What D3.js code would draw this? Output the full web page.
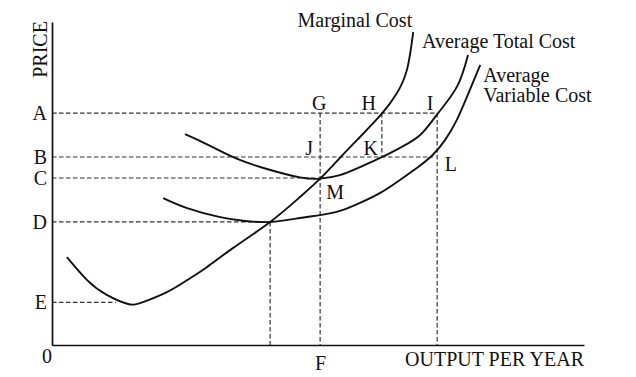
<!DOCTYPE html>
<html>
<head>
<meta charset="utf-8">
<script src="https://cdn.jsdelivr.net/npm/d3@7"></script>
<style>
  body { margin: 0; background: #fff; }
  svg text { font-family: "Liberation Serif", "Times New Roman", serif; fill: #111; }
</style>
</head>
<body>
<div id="chart"></div>
<script>
// price levels on the vertical axis
const priceNames = ["A", "B", "C", "D", "E"];
const priceLevels = [71.8, 58.2, 51.7, 38.1, 13.2];

// output levels (F = output where MC meets ATC)
const outputF = 50.4;
const outputD = 41.0;
const outputH = 62.0;
const outputI = 72.4;
const outputL = 71.6;
const outputE = 12.0;

// cost curves: [output, price]
const marginalCost = [
  [2.8, 27.2], [6.6, 20.1], [10.3, 15.5], [14.3, 12.7], [17.1, 13.3],
  [21.6, 16.4], [25.4, 20.1], [29.1, 24.1], [34.0, 30.0], [41.0, 38.1],
  [46.6, 45.8], [50.4, 51.5], [54.1, 57.9], [57.9, 64.4], [62.0, 71.6],
  [64.7, 77.6], [66.7, 85.1], [67.9, 96.9]
];
const averageTotalCost = [
  [25.0, 65.3], [27.8, 63.2], [31.6, 60.1], [35.3, 57.3], [40.4, 54.5],
  [46.6, 51.9], [50.4, 51.5], [54.1, 52.6], [57.9, 55.1], [61.7, 57.9],
  [65.4, 61.0], [69.2, 65.0], [72.4, 71.4], [76.1, 79.9], [78.2, 89.8]
];
const averageVariableCost = [
  [20.9, 45.5], [25.4, 42.4], [31.6, 39.6], [36.3, 38.4], [41.0, 38.1],
  [46.6, 39.3], [50.4, 40.2], [54.1, 41.5], [57.9, 44.0], [61.7, 47.1],
  [65.4, 51.1], [69.2, 55.6], [71.6, 58.9], [73.9, 63.5], [76.1, 69.7],
  [78.0, 76.8], [80.5, 86.7]
];

const width = 636, height = 377;
const margin = { top: 22, right: 52, bottom: 32, left: 52 };
const fontSize = 20;

const svg = d3.select("#chart").append("svg")
  .attr("width", width)
  .attr("height", height);

const x = d3.scaleLinear().domain([0, 100]).range([margin.left, width - margin.right]);
const y = d3.scaleLinear().domain([0, 100]).range([height - margin.bottom, margin.top]);

const lvl = name => priceLevels[priceNames.indexOf(name)];

// dashed guide lines
const guides = [
  [0, lvl("A"), outputI, lvl("A")],
  [0, lvl("B"), outputL, lvl("B")],
  [0, lvl("C"), outputF, lvl("C")],
  [0, lvl("D"), outputD, lvl("D")],
  [0, lvl("E"), outputE, lvl("E")],
  [outputF, lvl("A"), outputF, 0],
  [outputH, lvl("A"), outputH, lvl("B")],
  [outputI, lvl("A"), outputI, 0],
  [outputD, lvl("D"), outputD, 0]
];
svg.append("g")
  .selectAll("line")
  .data(guides)
  .join("line")
  .attr("x1", d => x(d[0]))
  .attr("y1", d => y(d[1]))
  .attr("x2", d => x(d[2]))
  .attr("y2", d => y(d[3]))
  .attr("stroke", "#333")
  .attr("stroke-width", 1.2)
  .attr("stroke-dasharray", "4.5,2.5");

// axes
const yAxis = svg.append("g")
  .attr("transform", `translate(${x(0)},0)`)
  .call(d3.axisLeft(y).tickValues(priceLevels).tickFormat((d, i) => priceNames[i]).tickSize(0).tickSizeOuter(0).tickPadding(5));
const xAxis = svg.append("g")
  .attr("transform", `translate(0,${y(0)})`)
  .call(d3.axisBottom(x).tickValues([outputF]).tickFormat(() => "F").tickSize(0).tickSizeOuter(0).tickPadding(11));
[yAxis, xAxis].forEach(g => {
  g.attr("font-family", null).attr("font-size", fontSize);
  g.select(".domain").attr("stroke", "#111").attr("stroke-width", 1.7);
});

svg.append("text")
  .attr("x", x(0) - 5).attr("y", y(0) + 18)
  .attr("text-anchor", "middle")
  .attr("font-size", fontSize)
  .text("0");

svg.append("text")
  .attr("x", x(100)).attr("y", y(0) + 21)
  .attr("text-anchor", "end")
  .attr("font-size", fontSize)
  .text("OUTPUT PER YEAR");

svg.append("text")
  .attr("transform", `translate(${x(0) - 5},${y(91.5)}) rotate(-90)`)
  .attr("text-anchor", "middle")
  .attr("font-size", fontSize)
  .text("PRICE");

// curves
const line = d3.line()
  .x(d => x(d[0]))
  .y(d => y(d[1]))
  .curve(d3.curveNatural);

svg.append("g")
  .selectAll("path")
  .data([marginalCost, averageTotalCost, averageVariableCost])
  .join("path")
  .attr("d", line)
  .attr("fill", "none")
  .attr("stroke", "#111")
  .attr("stroke-width", 1.9);

// curve names
const mcEnd = marginalCost[marginalCost.length - 1];
const atcEnd = averageTotalCost[averageTotalCost.length - 1];
const avcEnd = averageVariableCost[averageVariableCost.length - 1];

svg.append("text")
  .attr("x", x(mcEnd[0]) - 1).attr("y", y(mcEnd[1]) - 5)
  .attr("text-anchor", "end")
  .attr("font-size", fontSize)
  .text("Marginal Cost");

svg.append("text")
  .attr("x", x(atcEnd[0]) - 46).attr("y", y(atcEnd[1]) - 7)
  .attr("font-size", fontSize)
  .text("Average Total Cost");

svg.append("text")
  .attr("x", x(avcEnd[0]) + 3).attr("y", y(avcEnd[1]) + 17)
  .attr("font-size", fontSize)
  .text("Average");
svg.append("text")
  .attr("x", x(avcEnd[0]) + 3).attr("y", y(avcEnd[1]) + 37)
  .attr("font-size", fontSize)
  .text("Variable Cost");

// point labels
const pointLabels = [
  { t: "G", px: outputF, py: lvl("A"), dx: -1, dy: -3 },
  { t: "H", px: outputH, py: lvl("A"), dx: -13, dy: -3 },
  { t: "I", px: outputI, py: lvl("A"), dx: -7, dy: -3 },
  { t: "J", px: outputF, py: lvl("B"), dx: -11, dy: -2 },
  { t: "K", px: outputH, py: lvl("B"), dx: -11, dy: -2 },
  { t: "L", px: outputL, py: lvl("B"), dx: 18, dy: 14 },
  { t: "M", px: outputF, py: lvl("C"), dx: 15, dy: 21 }
];
svg.append("g")
  .selectAll("text")
  .data(pointLabels)
  .join("text")
  .attr("x", d => x(d.px) + d.dx)
  .attr("y", d => y(d.py) + d.dy)
  .attr("text-anchor", "middle")
  .attr("font-size", fontSize)
  .text(d => d.t);
</script>
</body>
</html>
